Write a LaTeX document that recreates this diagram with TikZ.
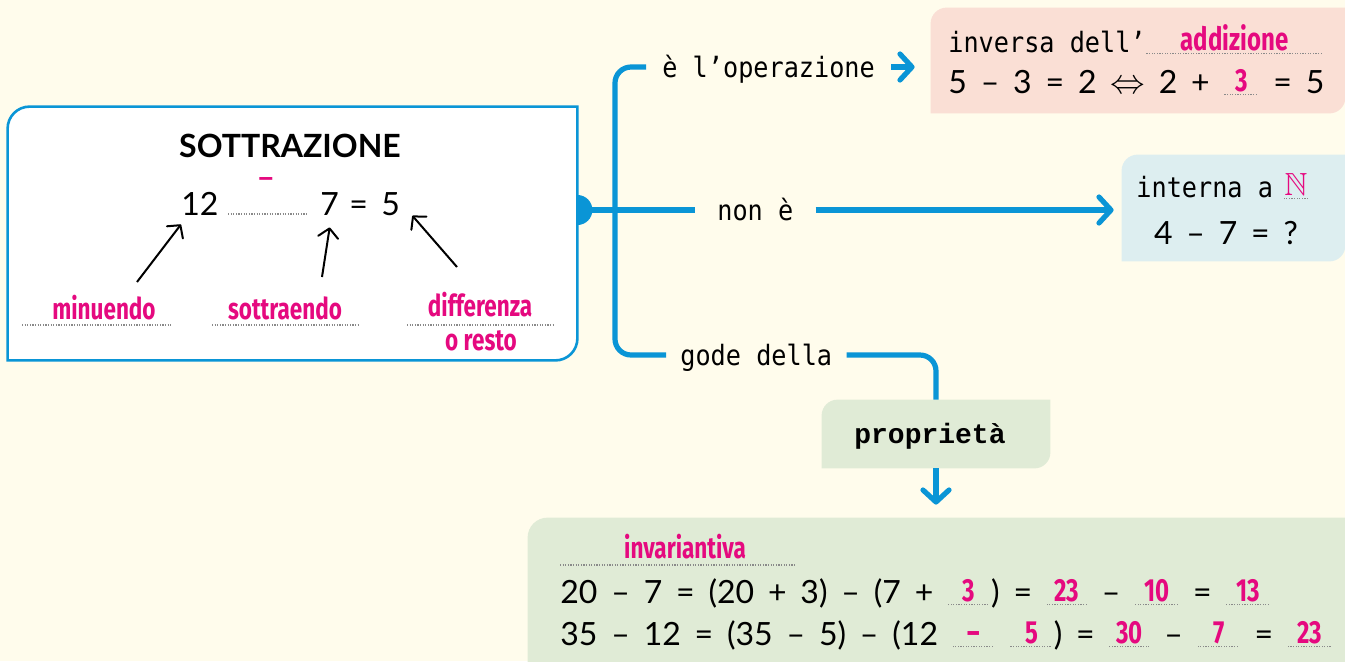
\documentclass[tikz,border=0pt]{standalone}
\usepackage{fontspec}
\usepackage{amssymb}
\usetikzlibrary{arrows.meta}
\setmainfont{Lato}
\newfontfamily\labfont[FakeStretch=0.9]{DejaVu Sans Mono}
\newfontfamily\numfont[WordSpace=1.75]{Lato}
\newfontfamily\eqfont[WordSpace=1.3]{Lato}
\newfontfamily\handfont[FakeStretch=0.75]{Fira Sans}
\newfontfamily\propfont{Liberation Mono}
\definecolor{cream}{HTML}{FFFCEC}
\definecolor{tblue}{HTML}{0A95D6}
\definecolor{mag}{HTML}{E5097F}
\definecolor{pinkbg}{HTML}{FADFD5}
\definecolor{bluebg}{HTML}{DDEEF0}
\definecolor{greenbg}{HTML}{E0EBD6}
\definecolor{dotgray}{HTML}{8A8A8A}
% dotted blank with the answer written on it
\newcommand{\handtext}{\color{mag}\handfont\bfseries\fontsize{16}{18}\selectfont}
\newcommand{\dotfillto}[1]{\hbox to #1{\color{dotgray}\leaders\hbox to 1.3pt{\hss\rule{0.6pt}{0.6pt}\hss}\hfill}}
\newcommand{\fillin}[2]{\makebox[0pt][l]{\raisebox{-1pt}{\dotfillto{#1}}}\makebox[#1][c]{\raisebox{1pt}{\handtext #2}}}
% box with the top left and bottom right corners rounded
\newcommand{\leaf}[3]{%
  \path[#3] (#1.south west) -- ([yshift=-#2]#1.north west)
    arc[start angle=180, end angle=90, radius=#2] -- (#1.north east)
    -- ([yshift=#2]#1.south east)
    arc[start angle=0, end angle=-90, radius=#2] -- cycle;}
\begin{document}
\begin{tikzpicture}[x=0.5pt,y=-0.5pt,
    lab/.style={font=\labfont\fontsize{14}{16}\selectfont, inner xsep=8pt, inner ysep=0pt,
      text height=13pt, text depth=3pt, anchor=west},
    num/.style={font=\numfont\fontsize{16}{19}\selectfont, inner sep=0pt, anchor=base west},
    hand/.style={font=\handfont\bfseries\fontsize{15}{17}\selectfont, text=mag, inner sep=0pt, anchor=base},
    box/.style={inner sep=0pt},
    branch/.style={draw=tblue, line width=2.6pt, rounded corners=8pt},
    bluetip/.style={-{Straight Barb[length=6pt,width=13pt,round]}},
    pointer/.style={draw=black, line width=1pt, -{Straight Barb[length=4.5pt,width=10pt,round]}},
    dotline/.style={draw=dotgray, line width=0.7pt, dash pattern=on 0.6pt off 0.7pt}]
  \useasboundingbox (0,0) rectangle (1345,661);
  \clip (0,0) rectangle (1345,661);
  \fill[cream] (0,0) rectangle (1345,661);

  % boxes
  \node (sott) at (292.5,233.5) [box, minimum width=284.5pt, minimum height=126.5pt] {};
  \leaf{sott}{11pt}{fill=white, draw=tblue, line width=1.3pt}
  \node (inv) at (1138,60.5) [box, minimum width=207pt, minimum height=52.5pt] {};
  \leaf{inv}{8pt}{fill=pinkbg}
  \node (int) at (1233.5,208) [box, minimum width=111.5pt, minimum height=53pt] {};
  \leaf{int}{8pt}{fill=bluebg}
  \node (prop) at (936,434) [box, minimum width=114pt, minimum height=34pt] {};
  \leaf{prop}{8pt}{fill=greenbg}
  \node (inva) at (946.5,604) [box, minimum width=418.5pt, minimum height=86pt] {};
  \leaf{inva}{10pt}{fill=greenbg}

  % subtraction and its terms
  \node (title) at (290,157) [anchor=base, inner sep=0pt, font=\bfseries\fontsize{16}{19}\selectfont] {SOTTRAZIONE};
  \node (n12) at (181,215) [num] {12};
  \draw[dotline] (228,214) -- (308,214);
  \node (sign) at (266,183) [anchor=center, inner sep=0pt, text=mag, font=\numfont\bfseries\fontsize{16}{19}\selectfont] {–};
  \node (n7) at (320,215) [num] {7};
  \node (eq) at (349,215) [num] {=};
  \node (n5) at (381,215) [num] {5};
  \node (mi) at (104,319) [hand] {minuendo};
  \node (so) at (285,319) [hand] {sottraendo};
  \node (di) at (480,316) [hand] {differenza};
  \node (re) at (481,350) [hand] {o resto};
  \draw[dotline] (22,325) -- (172,325);
  \draw[dotline] (212,325) -- (360,325);
  \draw[dotline] (407,325) -- (555,325);
  \coordinate (mitail) at (137,282);
  \coordinate (sotail) at (322,277);
  \coordinate (ditail) at (457,267);
  \draw[pointer] (mitail) -- ([yshift=-4.5pt]n12.south west);
  \draw[pointer] (sotail) -- ([yshift=-6pt]n7.south);
  \draw[pointer] (ditail) -- ([xshift=6pt]n5.south east);

  % branches
  \node (op) at (646,67) [lab] {è l’operazione};
  \node (non) at (695,210) [lab, inner xsep=11pt] {non è};
  \node (gode) at (666,355) [lab, inner xsep=7pt] {gode della};
  \coordinate (trunk) at (615,210);
  \coordinate (knob) at (sott.east |- trunk);
  \fill[tblue] ([yshift=7.5pt]knob) arc[start angle=90, end angle=-90, radius=7.5pt] -- cycle;
  \draw[branch] (op.west) -| (trunk) |- (gode.west);
  \draw[branch] (knob) -- (non.west);
  \draw[branch, bluetip, shorten >=8pt] (op.east) -- (op.east -| inv.west);
  \draw[branch, bluetip, shorten >=4pt] (non.east) -- (non.east -| int.west);
  \draw[branch] (gode.east) -| (prop.north);
  \draw[branch, bluetip, shorten >=6.5pt] (prop.south) -- (prop.south |- inva.north);

  % box contents
  \node (inv1) at (948,52) [lab, inner sep=0pt, anchor=base west, text height=, text depth=] {inversa dell’\fillin{89pt}{addizione}};
  \node (inv2) at (948,93) [num, font=\eqfont\fontsize{16}{19}\selectfont] {5 – 3 = 2 $\Leftrightarrow$ 2 + \fillin{18pt}{3} = 5};
  \node (int1) at (1136,197) [lab, inner sep=0pt, anchor=base west, text height=, text depth=] {interna a\hspace{5pt}\fillin{13pt}{$\mathbb{N}$}};
  \node (int2) at (1226,244) [num, anchor=base] {4 – 7 = ?};
  \node (proptxt) at (930,443) [anchor=base, inner sep=0pt, font=\propfont\bfseries\fontsize{14}{16}\selectfont] {proprietà};
  \node (invname) at (685,558) [hand] {invariantiva};
  \draw[dotline] (560,565) -- (795,565);
  \node (ex1) at (560,603) [num] {20 – 7 = (20 + 3) – (7 + \fillin{22pt}{3}) = \fillin{21pt}{23} – \fillin{22.5pt}{10} = \fillin{22.5pt}{13}};
  \node (ex2) at (560,645) [num] {35 – 12 = (35 – 5) – (12 \fillin{22pt}{–} \fillin{22pt}{5}) = \fillin{21pt}{30} – \fillin{22pt}{7} = \fillin{22.5pt}{23}};
\end{tikzpicture}
\end{document}
